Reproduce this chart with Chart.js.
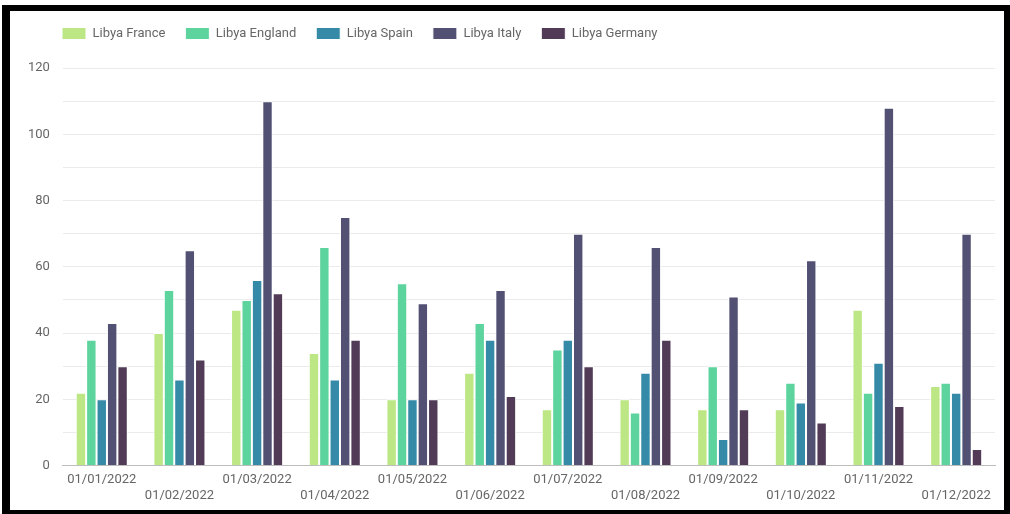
<!DOCTYPE html>
<html>
<head>
<meta charset="utf-8">
<script src="https://cdn.jsdelivr.net/npm/chart.js@4/dist/chart.umd.min.js"></script>
<style>
    html, body { margin: 0; padding: 0; background: #ffffff; }
    #frame {
        position: absolute;
        left: 2px;
        top: 5px;
        width: 994px;
        height: 499px;
        border-style: solid;
        border-color: #000000;
        border-width: 6px 6px 4px 8px;
        background: #ffffff;
    }
    #frame canvas { display: block; }
</style>
</head>
<body>
<div id="frame"><canvas id="grafico"></canvas></div>
<script>
// Dados
const categorias = ['01/01/2022', '01/02/2022', '01/03/2022', '01/04/2022', '01/05/2022', '01/06/2022',
                    '01/07/2022', '01/08/2022', '01/09/2022', '01/10/2022', '01/11/2022', '01/12/2022'];
const libyaFrance  = [22, 40, 47, 34, 20, 28, 17, 20, 17, 17, 47, 24];
const libyaEngland = [38, 53, 50, 66, 55, 43, 35, 16, 30, 25, 22, 25];
const libyaSpain   = [20, 26, 56, 26, 20, 38, 38, 28, 8, 19, 31, 22];
const libyaItaly   = [43, 65, 110, 75, 49, 53, 70, 66, 51, 62, 108, 70];
const libyaGermany = [30, 32, 52, 38, 20, 21, 30, 38, 17, 13, 18, 5];
const yTicks = [0, 20, 40, 60, 80, 100, 120];

const cores = {
    france: '#bce784',
    england: '#5dd39e',
    spain: '#348aa7',
    italy: '#525174',
    germany: '#513b56'
};

function serie(label, data, cor) {
    return {
        label: label,
        data: data,
        backgroundColor: cor,
        borderColor: '#ffffff',
        borderWidth: 1,
        borderSkipped: 'bottom',
        categoryPercentage: 0.67,
        barPercentage: 1
    };
}

// ajusta a legenda: mais espaço abaixo e alinhada com a área do gráfico
const legendaAjuste = {
    id: 'legendaAjuste',
    beforeInit(chart) {
        const fitOriginal = chart.legend.fit;
        chart.legend.fit = function() {
            fitOriginal.call(this);
            this.height += 18;
        };
    },
    afterLayout(chart) {
        if (chart.legend) {
            chart.legend.left += 27;
        }
    }
};

Chart.defaults.font.family = 'Roboto';
Chart.defaults.font.size = 13;
Chart.defaults.color = '#666666';

const canvas = document.getElementById('grafico');
new Chart(canvas.getContext('2d'), {
    type: 'bar',
    data: {
        labels: categorias,
        datasets: [
            serie('Libya France', libyaFrance, cores.france),
            serie('Libya England', libyaEngland, cores.england),
            serie('Libya Spain', libyaSpain, cores.spain),
            serie('Libya Italy', libyaItaly, cores.italy),
            serie('Libya Germany', libyaGermany, cores.germany)
        ]
    },
    options: {
        responsive: true,
        maintainAspectRatio: false,
        animation: false,
        layout: {
            padding: { top: -4, left: 5, right: 9, bottom: 0 }
        },
        plugins: {
            legend: {
                position: 'top',
                align: 'start',
                labels: {
                    boxWidth: 24,
                    boxHeight: 12,
                    padding: 20,
                    color: '#666666'
                }
            },
            tooltip: { enabled: false }
        },
        scales: {
            x: {
                grid: { display: false, drawTicks: false },
                border: { display: true, color: '#bdbdbd', width: 1 },
                ticks: {
                    autoSkip: false,
                    maxRotation: 0,
                    minRotation: 0,
                    padding: 6,
                    font: { lineHeight: 1.25 },
                    callback: function(value, index) {
                        const label = categorias[index];
                        return index % 2 === 1 ? ['', label] : label;
                    }
                }
            },
            y: {
                min: 0,
                max: 120,
                grid: { color: '#ebebeb', drawTicks: false },
                border: { display: false },
                ticks: {
                    stepSize: 10,
                    padding: 13,
                    callback: function(value) {
                        return yTicks.includes(value) ? value : '';
                    }
                }
            }
        }
    },
    plugins: [legendaAjuste]
});
</script>
</body>
</html>
